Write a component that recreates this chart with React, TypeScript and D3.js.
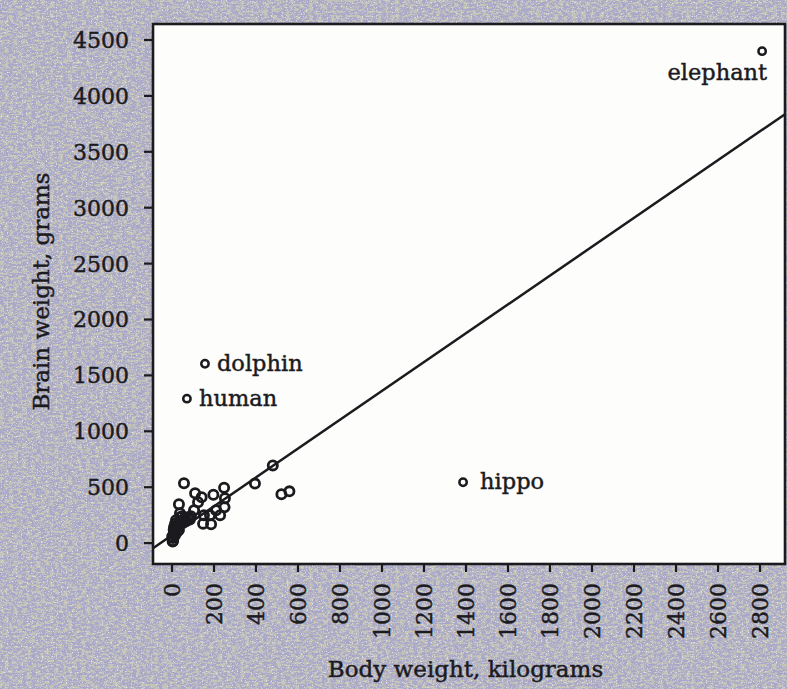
import React from "react";
import * as d3 from "d3";

// ---- data ----
const bodyKg = [57, 110, 33, 141, 197, 248, 252, 105, 124, 152, 181, 210, 229, 250, 148, 186, 395, 480, 521, 559,
  3, 5, 10, 19, 28, 43, 57, 76, 90, 67, 33, 10, 19, 48, 5, 38,
  14, 24, 52, 62, 8, 29, 40, 85, 1, 15];
const brainG = [535, 446, 348, 410, 432, 495, 401, 294, 365, 250, 250, 294, 250, 321, 174, 169, 532, 695, 437, 463,
  15, 45, 90, 134, 170, 196, 214, 232, 241, 196, 116, 143, 205, 241, 18, 267,
  70, 100, 180, 226, 120, 150, 232, 212, 60, 175];

const namedAnimals = ["elephant", "dolphin", "human", "hippo"];
const namedBody = [2810, 157, 71, 1386];
const namedBrain = [4400, 1604, 1292, 544];

const xTicks = [0, 200, 400, 600, 800, 1000, 1200, 1400, 1600, 1800, 2000, 2200, 2400, 2600, 2800];
const yTicks = [0, 500, 1000, 1500, 2000, 2500, 3000, 3500, 4000, 4500];
const xDomain = [-90.5, 2919];
const yDomain = [-187, 4643];

const fitIntercept = 71;
const fitSlope = 1.29;

const xTitle = "Body weight, kilograms";
const yTitle = "Brain weight, grams";

// ---- layout ----
const W = 787, H = 689;
const L = 153, R = 785, T = 24, B = 564;
const FONT = "'DejaVu Serif', serif";
const INK = "#1b1b1f";

const labelOffsets: Record<string, { dx: number; dy: number; anchor: string }> = {
  elephant: { dx: 5, dy: 29, anchor: "end" },
  dolphin: { dx: 12, dy: 7, anchor: "start" },
  human: { dx: 12, dy: 7, anchor: "start" },
  hippo: { dx: 17, dy: 7, anchor: "start" },
};

export default function App() {
  const x = d3.scaleLinear().domain(xDomain).range([L, R]);
  const y = d3.scaleLinear().domain(yDomain).range([B, T]);
  const fit = (v: number) => fitIntercept + fitSlope * v;
  const line = d3.line<number>().x((v) => x(v)).y((v) => y(fit(v)));
  const textInk = { fill: INK, stroke: INK, strokeWidth: 0.45 };

  return (
    <svg width={W} height={H} style={{ display: "block", position: "absolute", left: 0, top: 0 }}>
      <defs>
        <filter id="grainA" x="0" y="0" width="100%" height="100%">
          <feTurbulence type="fractalNoise" baseFrequency="0.22 0.45" numOctaves="3" seed="4" result="n" />
          <feColorMatrix in="n" type="matrix"
            values="0 0 0 0 0.55  0 0 0 0 0.545  0 0 0 0 0.46  6 0 0 0 -2.7" />
        </filter>
        <filter id="grainB" x="0" y="0" width="100%" height="100%">
          <feTurbulence type="fractalNoise" baseFrequency="0.8" numOctaves="1" seed="11" result="n" />
          <feColorMatrix in="n" type="matrix"
            values="0 0 0 0 0.84  0 0 0 0 0.84  0 0 0 0 0.93  0 4 0 0 -2.25" />
        </filter>
        <clipPath id="plotClip">
          <rect x={L} y={T} width={R - L} height={B - T} />
        </clipPath>
      </defs>

      {/* scanned-paper background */}
      <rect x={0} y={0} width={W} height={H} fill="#a8a7c8" />
      <rect x={0} y={0} width={W} height={H} filter="url(#grainA)" />
      <rect x={0} y={0} width={W} height={H} filter="url(#grainB)" />

      {/* plot area */}
      <rect x={L} y={T} width={R - L} height={B - T} fill="#fdfdfb" />

      {/* regression line */}
      <path d={line(xDomain) || ""} fill="none" stroke={INK} strokeWidth={2.5} clipPath="url(#plotClip)" />

      {/* points */}
      <g fill="none" stroke={INK}>
        {bodyKg.map((b, i) => (
          <circle key={i} cx={x(b)} cy={y(brainG[i])} r={4.6} strokeWidth={2.8} />
        ))}
        {namedBody.map((b, i) => (
          <circle key={"n" + i} cx={x(b)} cy={y(namedBrain[i])} r={3.7} strokeWidth={2.5} />
        ))}
      </g>

      {/* animal labels */}
      <g fontFamily={FONT} fontSize={22.5} {...textInk}>
        {namedAnimals.map((name, i) => {
          const o = labelOffsets[name];
          return (
            <text key={name} x={x(namedBody[i]) + o.dx} y={y(namedBrain[i]) + o.dy} textAnchor={o.anchor}>
              {name}
            </text>
          );
        })}
      </g>

      {/* frame */}
      <rect x={L} y={T} width={R - L} height={B - T} fill="none" stroke={INK} strokeWidth={2.6} />

      {/* y axis */}
      <g fontFamily={FONT} fontSize={22} {...textInk}>
        {yTicks.map((t) => (
          <g key={t}>
            <line x1={L - 9} x2={L} y1={y(t)} y2={y(t)} stroke={INK} strokeWidth={2.2} />
            <text x={129} y={y(t)} dy="0.36em" textAnchor="end">{t}</text>
          </g>
        ))}
      </g>

      {/* x axis */}
      <g fontFamily={FONT} fontSize={22} {...textInk}>
        {xTicks.map((t) => (
          <g key={t}>
            <line x1={x(t)} x2={x(t)} y1={B} y2={B + 8} stroke={INK} strokeWidth={2.2} />
            <text transform={`translate(${x(t)},${B + 19}) rotate(-90)`} dy="0.36em" textAnchor="end">{t}</text>
          </g>
        ))}
      </g>

      {/* axis titles */}
      <text x={(326 + 605) / 2} y={677} textAnchor="middle" fontFamily={FONT} fontSize={23} {...textInk}>{xTitle}</text>
      <text transform={`translate(49,${(170 + 413) / 2}) rotate(-90)`} textAnchor="middle"
        fontFamily={FONT} fontSize={23} {...textInk}>{yTitle}</text>
    </svg>
  );
}
